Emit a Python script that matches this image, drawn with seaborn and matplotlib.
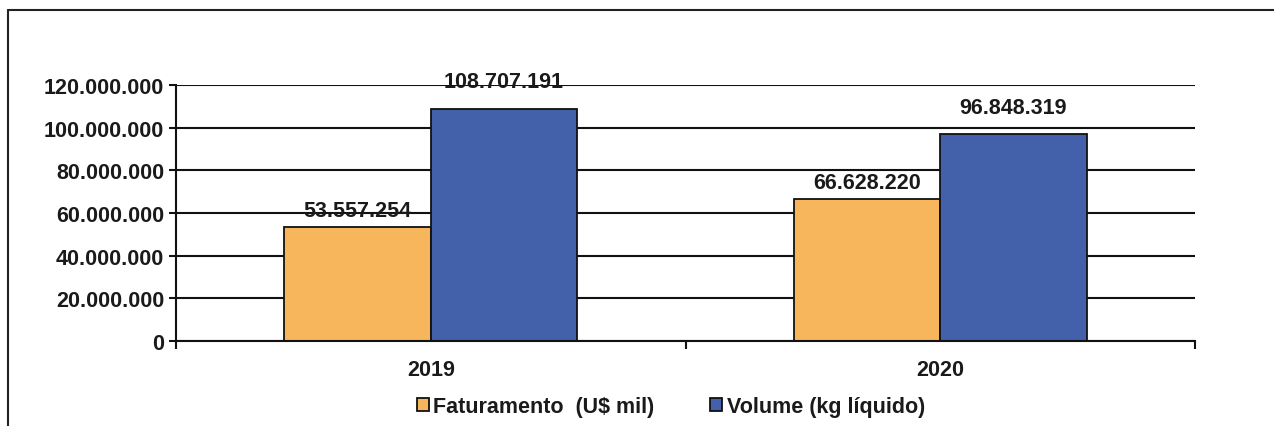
import matplotlib
matplotlib.use("Agg")
import matplotlib.pyplot as plt
from matplotlib.lines import Line2D
from matplotlib.patches import Patch
from matplotlib.ticker import FuncFormatter, FixedLocator
import seaborn as sns
import pandas as pd

anos = ["2019", "2020"]
faturamento = [53557254, 66628220]
volume = [108707191, 96848319]
series = ["Faturamento  (U$ mil)", "Volume (kg líquido)"]
cores = ["#F7B65C", "#4360AA"]

df = pd.DataFrame({
    "ano": anos * 2,
    "valor": faturamento + volume,
    "serie": [series[0]] * len(anos) + [series[1]] * len(anos),
})

sns.set_theme(style="white")
plt.rcParams["font.family"] = ["Liberation Sans", "DejaVu Sans"]
plt.rcParams["font.weight"] = "bold"

FS = 15.5
TXT = "#1a1a1a"

fig = plt.figure(figsize=(12.74, 4.27), dpi=100)
ax = fig.add_axes([176 / 1274, 1 - 342 / 427, (1195 - 176) / 1274, (342 - 86) / 427])

sns.barplot(data=df, x="ano", y="valor", hue="serie", palette=cores,
            width=0.575, edgecolor="#111111", linewidth=1.3, ax=ax, legend=False,
            saturation=1)

ax.set_xlim(-0.5, 1.5)
ax.set_ylim(0, 120000000)
ax.set_yticks(range(0, 120000001, 20000000))
ax.yaxis.set_major_formatter(FuncFormatter(lambda v, p: f"{int(v):,}".replace(",", ".")))
ax.set_xlabel("")
ax.set_ylabel("")

ax.grid(axis="y", color="#111111", linewidth=1.5)
ax.set_axisbelow(True)
for s in ["top", "right"]:
    ax.spines[s].set_visible(False)
for s in ["left", "bottom"]:
    ax.spines[s].set_color("#111111")
    ax.spines[s].set_linewidth(1.5)

ax.tick_params(axis="y", direction="out", length=5, width=1.5, color="#111111",
               labelsize=FS, labelcolor=TXT, pad=3.5, left=True)
ax.tick_params(axis="x", which="major", length=0, labelsize=FS, labelcolor=TXT, pad=13)
ax.xaxis.set_minor_locator(FixedLocator([-0.5, 0.5, 1.5]))
ax.tick_params(axis="x", which="minor", direction="out", length=6, width=1.5,
               color="#111111", bottom=True)
for lbl in ax.get_xticklabels() + ax.get_yticklabels():
    lbl.set_fontweight("bold")

# value labels: the revenue series sits a little closer to its bars
for cont, pad in zip(ax.containers, [4, 12]):
    labels = [f"{int(b.get_height()):,}".replace(",", ".") for b in cont]
    ax.bar_label(cont, labels=labels, padding=pad, fontsize=FS, fontweight="bold",
                 color=TXT)

handles = [Patch(facecolor=c, edgecolor="#111111", linewidth=1.3) for c in cores]
fig.legend(handles, series, loc="center", bbox_to_anchor=(671 / 1274, 1 - 408 / 427),
           ncol=2, frameon=False, prop={"size": FS, "weight": "bold"},
           handlelength=0.55, handleheight=0.55, handletextpad=0.2, columnspacing=2.6,
           labelcolor=TXT)

# outer frame
fig.add_artist(Line2D([8 / 1274, 8 / 1274], [0, 1 - 11 / 427], transform=fig.transFigure,
                      color="#222222", linewidth=1.5))
fig.add_artist(Line2D([8 / 1274, 1], [1 - 11 / 427, 1 - 11 / 427], transform=fig.transFigure,
                      color="#222222", linewidth=1.5))

fig.savefig("out.png", dpi=100)
